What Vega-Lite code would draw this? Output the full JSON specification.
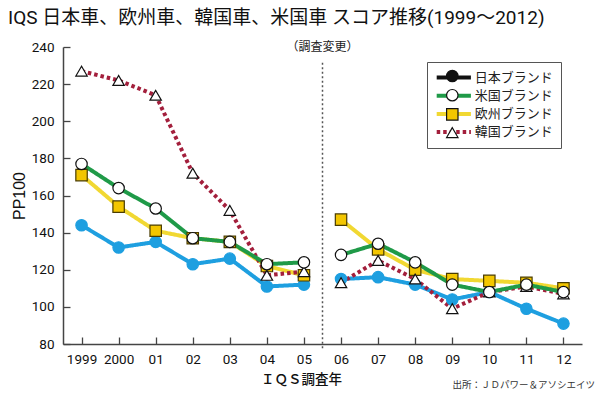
{
  "$schema": "https://vega.github.io/schema/vega-lite/v6.json",
  "width": 519,
  "height": 297,
  "autosize": {"type": "none"},
  "padding": {"left": 63, "top": 47, "right": 18, "bottom": 50},
  "background": "white",
  "title": {
    "text": "IQS 日本車、欧州車、韓国車、米国車 スコア推移(1999～2012)",
    "anchor": "start",
    "frame": "group",
    "dx": -55,
    "offset": 12,
    "font": "Roboto, Noto Sans CJK JP",
    "fontSize": 19,
    "fontWeight": "normal",
    "color": "#111"
  },
  "config": {
    "font": "Noto Sans CJK JP",
    "view": {"stroke": null},
    "axis": {
      "grid": false,
      "domainColor": "#444",
      "tickColor": "#444",
      "domainWidth": 1.5,
      "tickWidth": 1.3,
      "tickSize": -7,
      "labelOverlap": false,
      "labelFont": "Roboto",
      "labelFontSize": 13.5,
      "labelColor": "#111"
    },
    "legend": {
      "orient": "none",
      "legendX": 364,
      "legendY": 15,
      "title": null,
      "symbolSize": 130,
      "symbolOffset": 11.3,
      "labelFont": "Noto Sans CJK JP",
      "labelFontSize": 13,
      "labelColor": "#222",
      "labelOffset": 13,
      "rowPadding": 2.2,
      "padding": 7.5
    }
  },
  "data": {
    "values": [
      {"year": 1999, "brand": "日本ブランド", "survey": "旧", "pp100": 144},
      {"year": 2000, "brand": "日本ブランド", "survey": "旧", "pp100": 132},
      {"year": 2001, "brand": "日本ブランド", "survey": "旧", "pp100": 135},
      {"year": 2002, "brand": "日本ブランド", "survey": "旧", "pp100": 123},
      {"year": 2003, "brand": "日本ブランド", "survey": "旧", "pp100": 126},
      {"year": 2004, "brand": "日本ブランド", "survey": "旧", "pp100": 111},
      {"year": 2005, "brand": "日本ブランド", "survey": "旧", "pp100": 112},
      {"year": 2006, "brand": "日本ブランド", "survey": "新", "pp100": 115},
      {"year": 2007, "brand": "日本ブランド", "survey": "新", "pp100": 116},
      {"year": 2008, "brand": "日本ブランド", "survey": "新", "pp100": 112},
      {"year": 2009, "brand": "日本ブランド", "survey": "新", "pp100": 104},
      {"year": 2010, "brand": "日本ブランド", "survey": "新", "pp100": 108},
      {"year": 2011, "brand": "日本ブランド", "survey": "新", "pp100": 99},
      {"year": 2012, "brand": "日本ブランド", "survey": "新", "pp100": 91},
      {"year": 1999, "brand": "欧州ブランド", "survey": "旧", "pp100": 171},
      {"year": 2000, "brand": "欧州ブランド", "survey": "旧", "pp100": 154},
      {"year": 2001, "brand": "欧州ブランド", "survey": "旧", "pp100": 141},
      {"year": 2002, "brand": "欧州ブランド", "survey": "旧", "pp100": 137},
      {"year": 2003, "brand": "欧州ブランド", "survey": "旧", "pp100": 135},
      {"year": 2004, "brand": "欧州ブランド", "survey": "旧", "pp100": 122},
      {"year": 2005, "brand": "欧州ブランド", "survey": "旧", "pp100": 117},
      {"year": 2006, "brand": "欧州ブランド", "survey": "新", "pp100": 147},
      {"year": 2007, "brand": "欧州ブランド", "survey": "新", "pp100": 131},
      {"year": 2008, "brand": "欧州ブランド", "survey": "新", "pp100": 120},
      {"year": 2009, "brand": "欧州ブランド", "survey": "新", "pp100": 115},
      {"year": 2010, "brand": "欧州ブランド", "survey": "新", "pp100": 114},
      {"year": 2011, "brand": "欧州ブランド", "survey": "新", "pp100": 113},
      {"year": 2012, "brand": "欧州ブランド", "survey": "新", "pp100": 110},
      {"year": 1999, "brand": "韓国ブランド", "survey": "旧", "pp100": 227},
      {"year": 2000, "brand": "韓国ブランド", "survey": "旧", "pp100": 222},
      {"year": 2001, "brand": "韓国ブランド", "survey": "旧", "pp100": 214},
      {"year": 2002, "brand": "韓国ブランド", "survey": "旧", "pp100": 172},
      {"year": 2003, "brand": "韓国ブランド", "survey": "旧", "pp100": 152},
      {"year": 2004, "brand": "韓国ブランド", "survey": "旧", "pp100": 117},
      {"year": 2005, "brand": "韓国ブランド", "survey": "旧", "pp100": 119},
      {"year": 2006, "brand": "韓国ブランド", "survey": "新", "pp100": 113},
      {"year": 2007, "brand": "韓国ブランド", "survey": "新", "pp100": 125},
      {"year": 2008, "brand": "韓国ブランド", "survey": "新", "pp100": 115},
      {"year": 2009, "brand": "韓国ブランド", "survey": "新", "pp100": 99},
      {"year": 2010, "brand": "韓国ブランド", "survey": "新", "pp100": 108},
      {"year": 2011, "brand": "韓国ブランド", "survey": "新", "pp100": 111},
      {"year": 2012, "brand": "韓国ブランド", "survey": "新", "pp100": 107},
      {"year": 1999, "brand": "米国ブランド", "survey": "旧", "pp100": 177},
      {"year": 2000, "brand": "米国ブランド", "survey": "旧", "pp100": 164},
      {"year": 2001, "brand": "米国ブランド", "survey": "旧", "pp100": 153},
      {"year": 2002, "brand": "米国ブランド", "survey": "旧", "pp100": 137},
      {"year": 2003, "brand": "米国ブランド", "survey": "旧", "pp100": 135},
      {"year": 2004, "brand": "米国ブランド", "survey": "旧", "pp100": 123},
      {"year": 2005, "brand": "米国ブランド", "survey": "旧", "pp100": 124},
      {"year": 2006, "brand": "米国ブランド", "survey": "新", "pp100": 128},
      {"year": 2007, "brand": "米国ブランド", "survey": "新", "pp100": 134},
      {"year": 2008, "brand": "米国ブランド", "survey": "新", "pp100": 124},
      {"year": 2009, "brand": "米国ブランド", "survey": "新", "pp100": 112},
      {"year": 2010, "brand": "米国ブランド", "survey": "新", "pp100": 108},
      {"year": 2011, "brand": "米国ブランド", "survey": "新", "pp100": 112},
      {"year": 2012, "brand": "米国ブランド", "survey": "新", "pp100": 108}
    ]
  },
  "layer": [
    {
      "resolve": {"scale": {"color": "independent", "strokeDash": "independent", "shape": "independent", "fill": "independent", "stroke": "independent"}},
      "encoding": {
        "x": {
          "field": "year",
          "type": "quantitative",
          "scale": {"domain": [1998.5, 2012.5], "nice": false, "zero": false},
          "axis": {
            "title": "ＩＱＳ調査年",
            "values": [1999, 2000, 2001, 2002, 2003, 2004, 2005, 2006, 2007, 2008, 2009, 2010, 2011, 2012],
            "format": "d",
            "labelExpr": "datum.value < 2001 ? datum.label : slice(datum.label, 2)",
            "labelPadding": 15,
            "labelFlush": false,
            "labelOverlap": false,
            "labelSeparation": 0,
            "titleFont": "Noto Sans CJK JP",
            "titleFontSize": 13.5,
            "titleFontWeight": 500,
            "titleColor": "#111",
            "titleX": 238,
            "titleY": 35,
            "titleBaseline": "middle"
          }
        },
        "y": {
          "field": "pp100",
          "type": "quantitative",
          "scale": {"domain": [80, 240], "nice": false, "zero": false},
          "axis": {
            "title": "PP100",
            "values": [80, 100, 120, 140, 160, 180, 200, 220, 240],
            "labelPadding": 16,
            "labelOverlap": false,
            "labelSeparation": 0,
            "titleFont": "Liberation Sans",
            "titleFontSize": 16,
            "titleFontWeight": "normal",
            "titleColor": "#111",
            "titleX": -44,
            "titleBaseline": "middle"
          }
        }
      },
      "layer": [
        {
          "mark": {"type": "line", "strokeWidth": 4, "strokeJoin": "round", "strokeCap": "butt"},
          "encoding": {
            "detail": {"field": "survey", "type": "nominal"},
            "color": {
              "field": "brand",
              "type": "nominal",
              "scale": {
                "domain": ["日本ブランド", "米国ブランド", "欧州ブランド", "韓国ブランド"],
                "range": ["#1e9fe0", "#1f9a48", "#f1d832", "#a31f3c"]
              },
              "legend": null
            },
            "strokeDash": {
              "field": "brand",
              "type": "nominal",
              "scale": {
                "domain": ["日本ブランド", "米国ブランド", "欧州ブランド", "韓国ブランド"],
                "range": [[1, 0], [1, 0], [1, 0], [3.5, 3]]
              },
              "legend": null
            }
          }
        },
        {
          "mark": {"type": "point", "filled": true, "size": 130, "strokeWidth": 1.2, "opacity": 1},
          "encoding": {
            "shape": {
              "field": "brand",
              "type": "nominal",
              "scale": {
                "domain": ["日本ブランド", "米国ブランド", "欧州ブランド", "韓国ブランド"],
                "range": ["circle", "circle", "square", "triangle-up"]
              },
              "legend": null
            },
            "fill": {
              "field": "brand",
              "type": "nominal",
              "scale": {
                "domain": ["日本ブランド", "米国ブランド", "欧州ブランド", "韓国ブランド"],
                "range": ["#1e9fe0", "white", "#f3c600", "white"]
              },
              "legend": null
            },
            "stroke": {
              "field": "brand",
              "type": "nominal",
              "scale": {
                "domain": ["日本ブランド", "米国ブランド", "欧州ブランド", "韓国ブランド"],
                "range": ["#1e9fe0", "#111", "#4a3c00", "#111"]
              },
              "legend": null
            }
          }
        },
        {
          "transform": [{"filter": "datum.year < 0"}],
          "mark": {"type": "line", "strokeWidth": 4, "strokeCap": "butt"},
          "encoding": {
            "color": {
              "field": "brand",
              "type": "nominal",
              "scale": {
                "domain": ["日本ブランド", "米国ブランド", "欧州ブランド", "韓国ブランド"],
                "range": ["#111", "#1f9a48", "#f1d832", "#a31f3c"]
              },
              "legend": {
                "symbolType": "M-3,0H3",
                "symbolStrokeWidth": 4,
                "strokeColor": "#555",
                "fillColor": "white"
              }
            },
            "strokeDash": {
              "field": "brand",
              "type": "nominal",
              "scale": {
                "domain": ["日本ブランド", "米国ブランド", "欧州ブランド", "韓国ブランド"],
                "range": [[1, 0], [1, 0], [1, 0], [3.5, 3]]
              },
              "legend": {
                "symbolType": "M-3,0H3",
                "symbolStrokeWidth": 4,
                "strokeColor": "#555",
                "fillColor": "white"
              }
            }
          }
        },
        {
          "transform": [{"filter": "datum.year < 0"}],
          "mark": {"type": "point", "filled": true, "strokeWidth": 1.2, "opacity": 1},
          "encoding": {
            "shape": {
              "field": "brand",
              "type": "nominal",
              "scale": {
                "domain": ["日本ブランド", "米国ブランド", "欧州ブランド", "韓国ブランド"],
                "range": ["circle", "circle", "square", "triangle-up"]
              },
              "legend": {"labelOpacity": 0, "labelExpr": "' '", "zindex": 1, "symbolStrokeWidth": 1.2, "symbolOpacity": 1}
            },
            "fill": {
              "field": "brand",
              "type": "nominal",
              "scale": {
                "domain": ["日本ブランド", "米国ブランド", "欧州ブランド", "韓国ブランド"],
                "range": ["#111", "white", "#f3c600", "white"]
              },
              "legend": {"labelOpacity": 0, "labelExpr": "' '", "zindex": 1, "symbolStrokeWidth": 1.2, "symbolOpacity": 1}
            },
            "stroke": {
              "field": "brand",
              "type": "nominal",
              "scale": {
                "domain": ["日本ブランド", "米国ブランド", "欧州ブランド", "韓国ブランド"],
                "range": ["#111", "#111", "#111", "#111"]
              },
              "legend": {"labelOpacity": 0, "labelExpr": "' '", "zindex": 1, "symbolStrokeWidth": 1.2, "symbolOpacity": 1}
            }
          }
        }
      ]
    },
    {
      "data": {"values": [{}]},
      "mark": {"type": "rule", "color": "#555", "strokeWidth": 1.5, "strokeDash": [2, 2.5]},
      "encoding": {
        "x": {
          "datum": 2005.5,
          "type": "quantitative",
          "scale": {"domain": [1998.5, 2012.5], "nice": false, "zero": false},
          "axis": {
            "title": "ＩＱＳ調査年",
            "values": [1999, 2000, 2001, 2002, 2003, 2004, 2005, 2006, 2007, 2008, 2009, 2010, 2011, 2012],
            "format": "d",
            "labelExpr": "datum.value < 2001 ? datum.label : slice(datum.label, 2)",
            "labelPadding": 15,
            "labelFlush": false,
            "labelOverlap": false,
            "labelSeparation": 0,
            "titleFont": "Noto Sans CJK JP",
            "titleFontSize": 13.5,
            "titleFontWeight": 500,
            "titleColor": "#111",
            "titleX": 238,
            "titleY": 35,
            "titleBaseline": "middle"
          }
        },
        "y": {
          "datum": 231.5,
          "type": "quantitative",
          "scale": {"domain": [80, 240], "nice": false, "zero": false},
          "axis": {
            "title": "PP100",
            "values": [80, 100, 120, 140, 160, 180, 200, 220, 240],
            "labelPadding": 16,
            "labelOverlap": false,
            "labelSeparation": 0,
            "titleFont": "Liberation Sans",
            "titleFontSize": 16,
            "titleFontWeight": "normal",
            "titleColor": "#111",
            "titleX": -44,
            "titleBaseline": "middle"
          }
        },
        "y2": {"datum": 77.5}
      }
    },
    {
      "data": {"values": [{}]},
      "mark": {"type": "text", "font": "Noto Sans CJK JP", "fontSize": 12, "color": "#222", "baseline": "middle", "align": "center"},
      "encoding": {
        "x": {
          "datum": 2005.5,
          "type": "quantitative",
          "scale": {"domain": [1998.5, 2012.5], "nice": false, "zero": false},
          "axis": {
            "title": "ＩＱＳ調査年",
            "values": [1999, 2000, 2001, 2002, 2003, 2004, 2005, 2006, 2007, 2008, 2009, 2010, 2011, 2012],
            "format": "d",
            "labelExpr": "datum.value < 2001 ? datum.label : slice(datum.label, 2)",
            "labelPadding": 15,
            "labelFlush": false,
            "labelOverlap": false,
            "labelSeparation": 0,
            "titleFont": "Noto Sans CJK JP",
            "titleFontSize": 13.5,
            "titleFontWeight": 500,
            "titleColor": "#111",
            "titleX": 238,
            "titleY": 35,
            "titleBaseline": "middle"
          }
        },
        "y": {
          "datum": 240,
          "type": "quantitative",
          "scale": {"domain": [80, 240], "nice": false, "zero": false},
          "axis": {
            "title": "PP100",
            "values": [80, 100, 120, 140, 160, 180, 200, 220, 240],
            "labelPadding": 16,
            "labelOverlap": false,
            "labelSeparation": 0,
            "titleFont": "Liberation Sans",
            "titleFontSize": 16,
            "titleFontWeight": "normal",
            "titleColor": "#111",
            "titleX": -44,
            "titleBaseline": "middle"
          }
        },
        "text": {"value": "（調査変更）"}
      }
    },
    {
      "data": {"values": [{}]},
      "mark": {"type": "text", "font": "Noto Sans CJK JP", "fontSize": 9.5, "color": "#333", "baseline": "middle", "align": "right", "dx": 13, "dy": 41},
      "encoding": {
        "x": {
          "datum": 2012.5,
          "type": "quantitative",
          "scale": {"domain": [1998.5, 2012.5], "nice": false, "zero": false},
          "axis": {
            "title": "ＩＱＳ調査年",
            "values": [1999, 2000, 2001, 2002, 2003, 2004, 2005, 2006, 2007, 2008, 2009, 2010, 2011, 2012],
            "format": "d",
            "labelExpr": "datum.value < 2001 ? datum.label : slice(datum.label, 2)",
            "labelPadding": 15,
            "labelFlush": false,
            "labelOverlap": false,
            "labelSeparation": 0,
            "titleFont": "Noto Sans CJK JP",
            "titleFontSize": 13.5,
            "titleFontWeight": 500,
            "titleColor": "#111",
            "titleX": 238,
            "titleY": 35,
            "titleBaseline": "middle"
          }
        },
        "y": {
          "datum": 80,
          "type": "quantitative",
          "scale": {"domain": [80, 240], "nice": false, "zero": false},
          "axis": {
            "title": "PP100",
            "values": [80, 100, 120, 140, 160, 180, 200, 220, 240],
            "labelPadding": 16,
            "labelOverlap": false,
            "labelSeparation": 0,
            "titleFont": "Liberation Sans",
            "titleFontSize": 16,
            "titleFontWeight": "normal",
            "titleColor": "#111",
            "titleX": -44,
            "titleBaseline": "middle"
          }
        },
        "text": {"value": "出所：ＪＤパワー＆アソシエイツ"}
      }
    }
  ]
}
